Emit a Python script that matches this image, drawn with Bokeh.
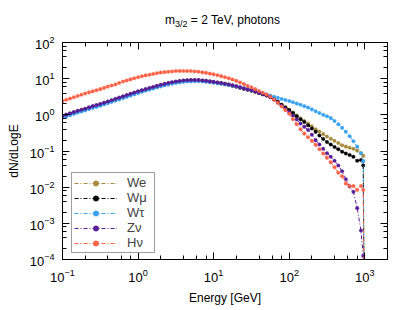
from bokeh.plotting import figure
from bokeh.models import LogAxis, Legend, LegendItem, ColumnDataSource, LogTicker, Range1d, Div
from bokeh.layouts import column
from bokeh.embed import file_html
from bokeh.resources import INLINE

# log10 of energy [GeV]
log_energy = [-1.00, -0.95, -0.90, -0.85, -0.80, -0.75, -0.70, -0.65, -0.60, -0.55,
              -0.50, -0.45, -0.40, -0.35, -0.30, -0.25, -0.20, -0.15, -0.10, -0.05,
              0.00, 0.05, 0.10, 0.15, 0.20, 0.25, 0.30, 0.35, 0.40, 0.45,
              0.50, 0.55, 0.60, 0.65, 0.70, 0.75, 0.80, 0.85, 0.90, 0.95,
              1.00, 1.05, 1.10, 1.15, 1.20, 1.25, 1.30, 1.35, 1.40, 1.45,
              1.50, 1.55, 1.60, 1.65, 1.70, 1.75, 1.80, 1.85, 1.90, 1.95,
              2.00, 2.05, 2.10, 2.15, 2.20, 2.25, 2.30, 2.35, 2.40, 2.45,
              2.50, 2.55, 2.60, 2.65, 2.70, 2.75, 2.80, 2.85, 2.90, 2.95,
              2.98, 3.00]

# log10(dN/dLogE)
we_log = [-0.04, -0.005, 0.03, 0.065, 0.10, 0.13, 0.16, 0.195, 0.23, 0.26,
          0.29, 0.325, 0.36, 0.395, 0.43, 0.465, 0.50, 0.535, 0.57, 0.605,
          0.64, 0.67, 0.70, 0.73, 0.76, 0.79, 0.82, 0.845, 0.87, 0.89,
          0.91, 0.925, 0.94, 0.95, 0.955, 0.955, 0.955, 0.945, 0.935, 0.92,
          0.905, 0.89, 0.875, 0.855, 0.835, 0.81, 0.785, 0.755, 0.725, 0.70,
          0.675, 0.64, 0.605, 0.57, 0.535, 0.49, 0.43, 0.36, 0.28, 0.21,
          0.14, 0.06, -0.02, -0.10, -0.17, -0.24, -0.32, -0.40, -0.46, -0.53,
          -0.60, -0.66, -0.72, -0.78, -0.84, -0.88, -0.91, -0.94, -0.99, -1.06,
          -1.13, -8.0]

wmu_log = [-0.05, -0.015, 0.02, 0.055, 0.09, 0.12, 0.15, 0.185, 0.22, 0.25,
           0.28, 0.315, 0.35, 0.385, 0.42, 0.455, 0.49, 0.525, 0.56, 0.595,
           0.63, 0.66, 0.69, 0.72, 0.75, 0.78, 0.81, 0.84, 0.865, 0.885,
           0.905, 0.92, 0.935, 0.945, 0.95, 0.95, 0.95, 0.94, 0.93, 0.915,
           0.90, 0.885, 0.87, 0.85, 0.83, 0.805, 0.78, 0.75, 0.72, 0.695,
           0.67, 0.64, 0.605, 0.57, 0.535, 0.49, 0.43, 0.36, 0.28, 0.20,
           0.13, 0.05, -0.04, -0.12, -0.20, -0.29, -0.38, -0.47, -0.57, -0.67,
           -0.75, -0.82, -0.89, -0.95, -1.02, -1.07, -1.11, -1.16, -1.27, -1.25,
           -1.40, -8.0]

wtau_log = [-0.08, -0.045, -0.01, 0.025, 0.06, 0.09, 0.12, 0.155, 0.19, 0.22,
            0.25, 0.285, 0.32, 0.355, 0.39, 0.425, 0.46, 0.495, 0.53, 0.565,
            0.60, 0.635, 0.665, 0.695, 0.725, 0.755, 0.785, 0.81, 0.835, 0.86,
            0.88, 0.895, 0.91, 0.92, 0.925, 0.93, 0.93, 0.925, 0.915, 0.905,
            0.89, 0.875, 0.86, 0.845, 0.825, 0.805, 0.785, 0.76, 0.735, 0.71,
            0.685, 0.66, 0.63, 0.60, 0.565, 0.53, 0.50, 0.47, 0.44, 0.41,
            0.38, 0.35, 0.31, 0.28, 0.24, 0.20, 0.15, 0.10, 0.05, 0.00,
            -0.04, -0.09, -0.17, -0.26, -0.36, -0.47, -0.59, -0.73, -0.88, -1.06,
            -1.28, -8.0]

znu_log = [-0.03, 0.005, 0.04, 0.075, 0.11, 0.14, 0.17, 0.205, 0.24, 0.27,
           0.30, 0.335, 0.37, 0.405, 0.44, 0.475, 0.51, 0.545, 0.58, 0.615,
           0.65, 0.68, 0.71, 0.74, 0.77, 0.80, 0.83, 0.855, 0.88, 0.90,
           0.92, 0.935, 0.95, 0.955, 0.96, 0.96, 0.96, 0.95, 0.94, 0.925,
           0.91, 0.895, 0.88, 0.86, 0.84, 0.815, 0.79, 0.76, 0.73, 0.705,
           0.68, 0.645, 0.61, 0.575, 0.54, 0.49, 0.42, 0.34, 0.26, 0.17,
           0.08, -0.02, -0.13, -0.24, -0.33, -0.42, -0.55, -0.70, -0.82, -0.94,
           -1.06, -1.16, -1.27, -1.40, -1.56, -1.78, -1.98, -2.13, -2.58, -3.20,
           -3.90, -8.0]

hnu_log = [0.38, 0.415, 0.45, 0.485, 0.52, 0.555, 0.59, 0.62, 0.65, 0.68,
           0.71, 0.745, 0.78, 0.81, 0.84, 0.88, 0.92, 0.95, 0.98, 1.01,
           1.04, 1.065, 1.09, 1.11, 1.13, 1.15, 1.17, 1.18, 1.19, 1.20,
           1.21, 1.21, 1.21, 1.21, 1.21, 1.20, 1.19, 1.175, 1.16, 1.14,
           1.12, 1.095, 1.07, 1.04, 1.01, 0.975, 0.94, 0.895, 0.85, 0.80,
           0.76, 0.71, 0.66, 0.61, 0.56, 0.50, 0.42, 0.33, 0.23, 0.13,
           0.03, -0.12, -0.26, -0.40, -0.52, -0.62, -0.72, -0.83, -0.95, -1.07,
           -1.19, -1.31, -1.45, -1.60, -1.70, -1.90, -1.97, -1.97, -2.08, -1.97,
           -2.08, -8.0]

labels = ["We", "W\u03bc", "W\u03c4", "Z\u03bd", "H\u03bd"]
colors = ["#a88a3c", "#000000", "#3aa2f2", "#581d98", "#ff6347"]
series_logs = [we_log, wmu_log, wtau_log, znu_log, hnu_log]

FONT = "Liberation Sans"

energy = [10 ** v for v in log_energy]

title = Div(
    text=("<div style=\"font-family:'Liberation Sans';font-size:12px;color:black;"
          "padding-left:165px;padding-top:13px;white-space:nowrap;line-height:14px\">"
          "m<span style=\"font-size:9px;position:relative;top:3px\">3/2</span>"
          " = 2 TeV, photons</div>"),
    width=407, height=30, margin=(0, 0, 0, 0))

p = figure(width=407, height=277, x_axis_type="log", y_axis_type="log",
           x_range=Range1d(0.1, 2000), y_range=Range1d(1e-4, 1e2),
           output_backend="svg", toolbar_location=None,
           min_border_left=62, min_border_right=20, min_border_top=12, min_border_bottom=46)
p.xgrid.visible = False
p.ygrid.visible = False
p.outline_line_color = "black"
p.outline_line_width = 1
p.background_fill_color = "white"

items = []
for name, vals, col in zip(labels, series_logs, colors):
    src = ColumnDataSource(dict(x=energy, y=[10 ** v for v in vals]))
    lr = p.line("x", "y", source=src, line_color=col, line_width=1, line_dash="4 2 1 2")
    sr = p.scatter("x", "y", source=src, marker="circle", size=3.6, fill_color=col,
                   line_color=col, line_width=0.3)
    items.append(LegendItem(label=name, renderers=[lr, sr]))

legend = Legend(items=items, location=(9, 6), border_line_color="#404040", border_line_width=1.5,
                background_fill_color="white", background_fill_alpha=1.0,
                label_text_font=FONT, label_text_font_size="13px",
                glyph_width=43, glyph_height=14, label_height=14, label_width=25,
                spacing=0, padding=2, margin=0, label_standoff=10)
p.add_layout(legend)

p.xaxis.ticker = LogTicker(desired_num_ticks=6)
p.yaxis.ticker = LogTicker(desired_num_ticks=8)

for ax in (p.xaxis[0], p.yaxis[0]):
    ax.major_tick_in = 7
    ax.major_tick_out = 0
    ax.minor_tick_in = 4
    ax.minor_tick_out = 0
    ax.axis_line_color = "black"
    ax.major_label_text_font = FONT
    ax.major_label_text_font_size = "13px"
    ax.major_label_text_color = "black"
    ax.axis_label_text_font = FONT
    ax.axis_label_text_font_size = "12px"
    ax.axis_label_text_font_style = "normal"
    ax.axis_label_text_color = "black"

p.xaxis.axis_label = "Energy [GeV]"
p.yaxis.axis_label = "dN/dLogE"
p.xaxis.major_label_standoff = 9
p.xaxis.axis_label_standoff = 6
p.yaxis.major_label_standoff = 8
p.yaxis.axis_label_standoff = 6

for loc, tk in (("above", 6), ("right", 8)):
    ax = LogAxis(ticker=LogTicker(desired_num_ticks=tk), major_tick_in=7, major_tick_out=0,
                 minor_tick_in=4, minor_tick_out=0, major_label_text_font_size="2px",
                 major_label_text_color=None, major_label_standoff=0, axis_line_color="black")
    p.add_layout(ax, loc)

layout = column(title, p, spacing=0)

open("out.html", "w").write(file_html(layout, INLINE))
